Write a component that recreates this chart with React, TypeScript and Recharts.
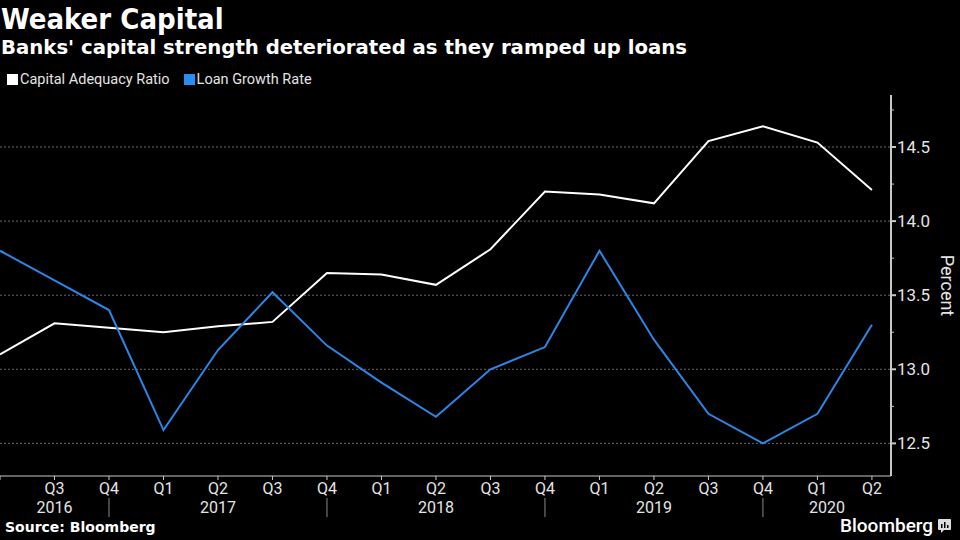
import React from "react";
import { LineChart, Line, XAxis, YAxis, CartesianGrid } from "recharts";

// quarters from Q2 2016 to Q2 2020
const quarters = ["Q2", "Q3", "Q4", "Q1", "Q2", "Q3", "Q4", "Q1", "Q2", "Q3", "Q4", "Q1", "Q2", "Q3", "Q4", "Q1", "Q2"];
const years = ["2016", "2017", "2018", "2019", "2020"];

const capitalAdequacy = [13.1, 13.31, 13.28, 13.25, 13.29, 13.32, 13.65, 13.64, 13.57, 13.81, 14.2, 14.18, 14.12, 14.54, 14.64, 14.53, 14.21];
const loanGrowth = [13.8, 13.6, 13.4, 12.59, 13.13, 13.52, 13.16, 12.91, 12.68, 13.0, 13.15, 13.8, 13.2, 12.7, 12.5, 12.7, 13.3];

const majorTicks = [12.5, 13, 13.5, 14, 14.5];
const yTicks = [12.5, 12.75, 13, 13.25, 13.5, 13.75, 14, 14.25, 14.5, 14.75];

const series = [
  { key: "car", name: "Capital Adequacy Ratio", color: "#ffffff", swatch: "#ffffff" },
  { key: "lgr", name: "Loan Growth Rate", color: "#2b86e8", swatch: "#2b8cf0" },
];

const X_MAX = 16.35;

const data = quarters.map((q, i) => ({ i, car: capitalAdequacy[i], lgr: loanGrowth[i] }));

// year boundaries sit on the Q4 ticks
const separators = quarters.map((q, i) => (q === "Q4" ? i : -1)).filter((i) => i >= 0);
const bounds = [0, ...separators, X_MAX];
const yearCenters = years.map((y, k) => (bounds[k] + bounds[k + 1]) / 2);

const AXIS = "#c8c8c8";
const TEXT = "#e4e4e4";
const FONT = "Roboto, 'Noto Sans', sans-serif";

const QuarterTick = (props: any) => {
  const { x, y, payload } = props;
  const i = payload.value;
  return (
    <g>
      <line x1={x} x2={x} y1={y} y2={y + 4} stroke={AXIS} />
      {i > 0 && (
        <text x={x} y={y + 18} textAnchor="middle" fill={TEXT} fontSize={16} fontFamily={FONT}>
          {quarters[i]}
        </text>
      )}
      {quarters[i] === "Q4" && <line x1={x} x2={x} y1={y + 22} y2={y + 41} stroke="#888" />}
    </g>
  );
};

const YearTick = (props: any) => {
  const { x, y, index } = props;
  return (
    <text x={x} y={y + 15} textAnchor="middle" fill={TEXT} fontSize={16} fontFamily={FONT}>
      {years[index]}
    </text>
  );
};

const PercentTick = (props: any) => {
  const { x, y, payload } = props;
  const major = majorTicks.includes(payload.value);
  return (
    <g>
      <line x1={x} x2={x + (major ? 5 : 3)} y1={y} y2={y} stroke={AXIS} strokeWidth={major ? 2 : 1} />
      {major && (
        <text x={x + 6} y={y + 6} fill={TEXT} fontSize={17} fontFamily={FONT}>
          {payload.value.toFixed(1)}
        </text>
      )}
    </g>
  );
};

const PercentLabel = (props: any) => {
  const vb = props.viewBox;
  const cx = 947;
  const cy = vb.y + vb.height / 2;
  return (
    <text
      x={cx}
      y={cy}
      textAnchor="middle"
      dominantBaseline="central"
      transform={`rotate(90 ${cx} ${cy})`}
      fill={TEXT}
      fontSize={18}
      fontFamily={FONT}
    >
      Percent
    </text>
  );
};

export default function App() {
  return (
    <div style={{ position: "fixed", left: 0, top: 0, width: 960, height: 540, background: "#000", overflow: "hidden" }}>
      <LineChart width={960} height={540} data={data} margin={{ top: 95, right: 0, bottom: 0, left: 0 }}>
        <CartesianGrid
          xAxisId="q"
          vertical={false}
          horizontalValues={majorTicks}
          stroke="#666"
          strokeDasharray="2 2"
        />
        <XAxis
          xAxisId="q"
          dataKey="i"
          type="number"
          domain={[0, X_MAX]}
          ticks={quarters.map((q, i) => i)}
          interval={0}
          height={22}
          tickSize={0}
          tickMargin={0}
          tickLine={false}
          axisLine={{ stroke: AXIS }}
          tick={<QuarterTick />}
          allowDataOverflow
        />
        <XAxis
          xAxisId="y"
          dataKey="i"
          type="number"
          domain={[0, X_MAX]}
          ticks={yearCenters}
          interval={0}
          height={42}
          tickSize={0}
          tickMargin={0}
          tickLine={false}
          axisLine={false}
          tick={<YearTick />}
          allowDataOverflow
        />
        <YAxis
          orientation="right"
          type="number"
          domain={[12.28, 14.851]}
          ticks={yTicks}
          interval={0}
          width={69}
          tickSize={0}
          tickMargin={0}
          tickLine={false}
          axisLine={{ stroke: AXIS, strokeWidth: 2 }}
          tick={<PercentTick />}
          label={{ content: <PercentLabel /> }}
          allowDataOverflow
        />
        {series.map((s) => (
          <Line
            key={s.key}
            xAxisId="q"
            dataKey={s.key}
            name={s.name}
            stroke={s.color}
            strokeWidth={2}
            dot={false}
            type="linear"
            isAnimationActive={false}
          />
        ))}
      </LineChart>

      <div style={{ position: "absolute", left: 1, top: 2, color: "#fff", fontFamily: "'DejaVu Sans Condensed', 'DejaVu Sans', sans-serif", fontWeight: "bold", fontSize: 29, lineHeight: "34px" }}>
        Weaker Capital
      </div>
      <div style={{ position: "absolute", left: 1, top: 36, color: "#fff", fontFamily: "'DejaVu Sans', sans-serif", fontWeight: "bold", fontSize: 19.7, lineHeight: "24px" }}>
        Banks' capital strength deteriorated as they ramped up loans
      </div>
      <div style={{ position: "absolute", left: 7, top: 71, display: "flex", alignItems: "center", fontFamily: FONT, fontSize: 14.5, color: TEXT }}>
        {series.map((s) => (
          <div key={s.key} style={{ display: "flex", alignItems: "center", marginRight: 14 }}>
            <span style={{ display: "inline-block", width: 11, height: 11, background: s.swatch, marginRight: 2 }} />
            <span>{s.name}</span>
          </div>
        ))}
      </div>
      <div style={{ position: "absolute", left: 5, top: 519, color: "#fff", fontFamily: "'DejaVu Sans', sans-serif", fontWeight: "bold", fontSize: 14 }}>
        Source: Bloomberg
      </div>
      <div style={{ position: "absolute", left: 840, top: 514, color: "#fff", fontFamily: FONT, fontWeight: 500, fontSize: 19, display: "flex", alignItems: "center" }}>
        <span>Bloomberg</span>
        <svg width={14} height={14} style={{ marginLeft: 5 }}>
          <rect x={0} y={0} width={13} height={11} rx={1} fill="#ddd" />
          <polygon points="3,11 6,11 3,14" fill="#ddd" />
          <rect x={3} y={5} width={1.5} height={4} fill="#000" />
          <rect x={6} y={3} width={1.5} height={6} fill="#000" />
          <rect x={9} y={6} width={1.5} height={3} fill="#000" />
        </svg>
      </div>
    </div>
  );
}
